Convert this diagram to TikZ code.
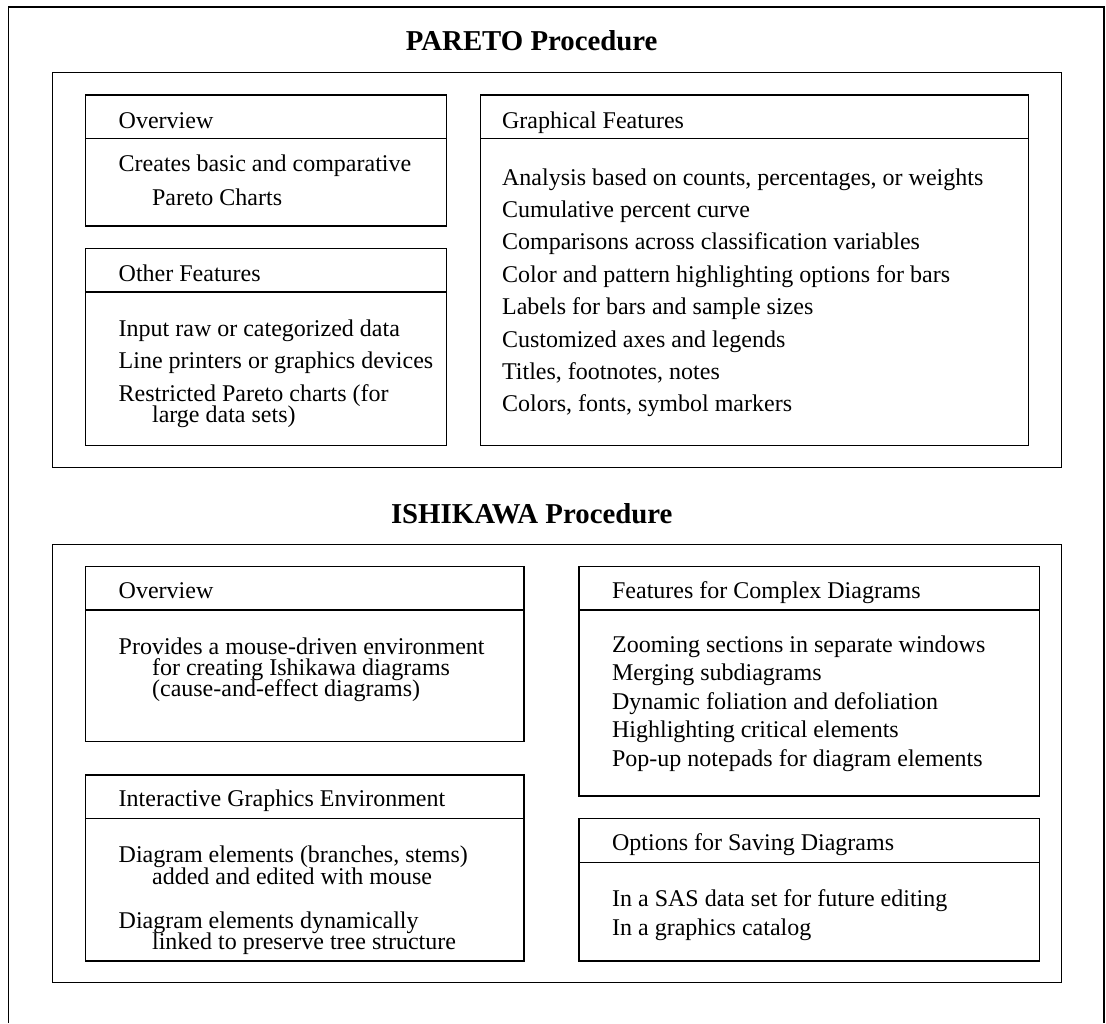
\documentclass[tikz,border=0pt]{standalone}
\usepackage{fontspec}
\setmainfont{Liberation Serif}
\usepackage{tikz}
\usetikzlibrary{positioning}

\tikzset{
  boxline/.style={line width=0.6pt},
  headtxt/.style={anchor=base west,inner sep=0pt,font=\fontsize{12}{14}\selectfont},
  itemtxt/.style={anchor=base west,inner sep=0pt,font=\fontsize{12}{14}\selectfont},
  proctitle/.style={anchor=base,inner sep=0pt,font=\fontsize{14.4}{17}\selectfont\bfseries}
}
% panel: x1, y1, x2, header line, y2
\newcommand{\featpanel}[5]{%
  \draw[boxline] (#1,#2) rectangle (#3,#5);
  \draw[boxline] (#1,#4) -- (#3,#4);}

\begin{document}
\begin{tikzpicture}[x=0.5pt,y=-0.5pt]
  \useasboundingbox (0,0) rectangle (1106,1023);
  % outer frame, open at the bottom
  \draw[boxline] (8.5,1023) -- (8.5,7) -- (1104,7) -- (1104,1023);

  % PARETO
  \node[proctitle] (ptitle) at (531.7,50.7) {PARETO Procedure};
  \draw[boxline] (52.5,72.7) rectangle (1061.5,467.7);
  \featpanel{85.7}{95}{446.7}{138.3}{226}
  \node[headtxt] (povh) at (118.3,128.3) {Overview};
  \node[itemtxt] (pov1) at (118.3,171.7) {Creates basic and comparative};
  \node[itemtxt] (pov2) at (151.7,205) {Pareto Charts};
  \featpanel{85.7}{248.3}{446.7}{292}{445.7}
  \node[headtxt] (pofh) at (118.3,281.7) {Other Features};
  \node[itemtxt] (pof1) at (118.3,336) {Input raw or categorized data};
  \node[itemtxt] (pof2) at (118.3,368.6) {Line printers or graphics devices};
  \node[itemtxt] (pof3) at (118.3,401.5) {Restricted Pareto charts (for};
  \node[itemtxt] (pof4) at (151.7,422.5) {large data sets)};
  \featpanel{480.7}{95}{1028.3}{138.3}{445.7}
  \node[headtxt] (pgfh) at (501.7,128.3) {Graphical Features};
  \foreach \t [count=\i from 0] in {Analysis based on counts{,} percentages{,} or weights,
      Cumulative percent curve, Comparisons across classification variables,
      Color and pattern highlighting options for bars, Labels for bars and sample sizes,
      Customized axes and legends, Titles{,} footnotes{,} notes, Colors{,} fonts{,} symbol markers}
    \node[itemtxt] (pgf\i) at (501.7,185+32.4*\i) {\t};

  % ISHIKAWA
  \node[proctitle] (ititle) at (531.7,523.3) {ISHIKAWA Procedure};
  \draw[boxline] (52.5,544.3) rectangle (1061.5,982.7);
  \featpanel{85.7}{566.7}{524}{610}{741.7}
  \node[headtxt] (iovh) at (118.3,598.7) {Overview};
  \node[itemtxt] (iov1) at (118.3,654.7) {Provides a mouse-driven environment};
  \node[itemtxt] (iov2) at (151.7,675.7) {for creating Ishikawa diagrams};
  \node[itemtxt] (iov3) at (151.7,696.7) {(cause-and-effect diagrams)};
  \featpanel{85.7}{775}{524}{818.3}{961}
  \node[headtxt] (iigh) at (118.3,806.7) {Interactive Graphics Environment};
  \node[itemtxt] (iig1) at (118.3,862.7) {Diagram elements (branches, stems)};
  \node[itemtxt] (iig2) at (151.7,884) {added and edited with mouse};
  \node[itemtxt] (iig3) at (118.3,928) {Diagram elements dynamically};
  \node[itemtxt] (iig4) at (151.7,949) {linked to preserve tree structure};
  \featpanel{579}{566.7}{1039.3}{610}{796}
  \node[headtxt] (icdh) at (611.7,598.7) {Features for Complex Diagrams};
  \foreach \t [count=\i from 0] in {Zooming sections in separate windows, Merging subdiagrams,
      Dynamic foliation and defoliation, Highlighting critical elements,
      Pop-up notepads for diagram elements}
    \node[itemtxt] (icd\i) at (611.7,652+28.6*\i) {\t};
  \featpanel{579}{818.3}{1039.3}{862.7}{961}
  \node[headtxt] (isvh) at (611.7,850.3) {Options for Saving Diagrams};
  \node[itemtxt] (isv1) at (611.7,906) {In a SAS data set for future editing};
  \node[itemtxt] (isv2) at (611.7,935) {In a graphics catalog};
\end{tikzpicture}
\end{document}
